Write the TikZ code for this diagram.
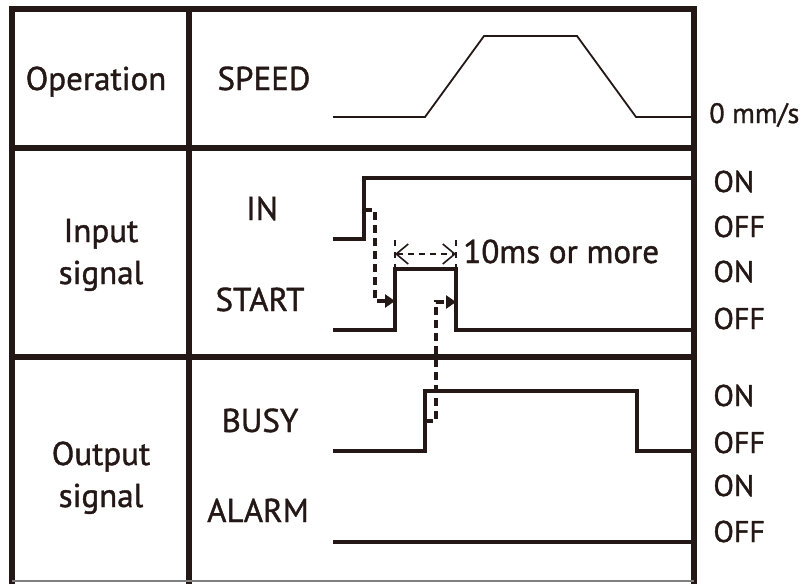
\documentclass[tikz,border=0pt]{standalone}
\usepackage{fontspec}
\setmainfont{PT Sans}[RawFeature={embolden=1.2}]
\usetikzlibrary{arrows.meta}
\definecolor{ink}{RGB}{35,24,21}
\begin{document}
\begin{tikzpicture}[x=.5pt, y=-.5pt, line join=miter, color=ink,
    >={Triangle[length=5pt,width=6.5pt]},
    txt/.style={anchor=base, inner sep=0pt, font=\fontsize{16.5}{20}\selectfont},
    lvl/.style={anchor=base west, inner sep=0pt, font=\fontsize{15}{18}\selectfont},
    frame/.style={line width=2.8pt},
    sig/.style={line width=1.7pt},
    trig/.style={line width=1.6pt, dash pattern=on 4pt off 2.5pt},
    dimline/.style={line width=.8pt, dash pattern=on 3pt off 2.5pt}]
\useasboundingbox (0,0) rectangle (802,584);
\def\xl{12} \def\xm{189} \def\xr{694} \def\xs{333}
% table
\draw[frame] (\xl,584) -- (\xl,9) -- (\xr,9) -- (\xr,584);
\draw[frame] (\xl,148) -- (\xr,148) (\xl,357) -- (\xr,357) (\xm,9) -- (\xm,584);
\draw[gray, line width=.6pt] (\xl,581) -- (\xr,581);
% row labels
\node[txt] (op) at (96,90) {Operation};
\node[txt] (inp) at (101,242) {Input};
\node[txt] (inps) at (101,284) {signal};
\node[txt] (outp) at (101,465) {Output};
\node[txt] (outps) at (101,507) {signal};
\node[txt] (speed) at (264,90) {SPEED};
\node[txt] (in) at (262,220) {IN};
\node[txt] (start) at (260,311) {START};
\node[txt] (busy) at (260,432) {BUSY};
\node[txt] (alarm) at (258,522) {ALARM};
% levels
\node[lvl, font=\fontsize{14}{17}\selectfont] (zero) at (709,123) {0 mm/s};
\foreach \y/\t in {192/ON,237/OFF,282/ON,329/OFF,406/ON,453/OFF,496/ON,542/OFF}
  \node[lvl, name=lv\y] at (713,\y) {\t};
% waveforms
\draw[line width=.9pt] (\xs,117) -- (425,117) -- (484,36) -- (577,36) -- (636,117) -- (\xr,117);
\draw[sig] (\xs,239) -- (364,239) -- (364,178) -- (\xr,178);
\draw[sig] (\xs,330) -- (395,330) -- (395,269) -- (456,269) -- (456,330) -- (\xr,330);
\draw[sig] (\xs,451) -- (425,451) -- (425,391) -- (637,391) -- (637,451) -- (\xr,451);
\draw[sig] (\xs,542) -- (\xr,542);
% timing
\coordinate (inup) at (364,210);
\coordinate (stup) at (395,301);
\coordinate (busyup) at (425,421);
\coordinate (stdn) at (456,302);
\draw[trig,->] (inup) -- ++(11,0) |- (stup);
\draw[trig,->] (busyup) -- ++(11,0) |- (stdn);
\draw[line width=.7pt, dashed] (395,240) -- (395,269) (456,240) -- (456,269);
\draw[dimline, {Straight Barb[length=6pt,width=10pt]}-{Straight Barb[length=6pt,width=10pt]}] (395,254) -- (456,254);
\node[txt, anchor=base west] (dim) at (463,263) {10ms or more};
\end{tikzpicture}
\end{document}
